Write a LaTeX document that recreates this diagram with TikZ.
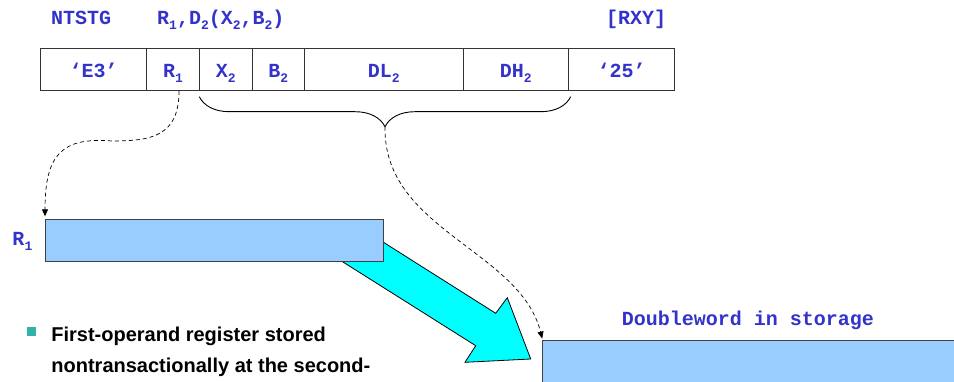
\documentclass[tikz,border=0pt]{standalone}
\usepackage{fontspec}
\setmainfont{Liberation Sans}
\setmonofont{Liberation Mono}
\usetikzlibrary{arrows.meta,positioning,calc,decorations.pathreplacing}
\definecolor{insblue}{RGB}{51,51,204}
\definecolor{regblue}{RGB}{153,204,255}
\definecolor{flowcyan}{RGB}{0,255,255}
\definecolor{bullteal}{RGB}{51,178,170}
\newcommand{\idx}[1]{\raisebox{-5pt}{\fontsize{13}{13}\selectfont #1}}

\begin{document}
\begin{tikzpicture}[x=1pt,y=-1pt,
    asm/.style={font=\fontsize{20}{20}\selectfont\ttfamily\bfseries,text=insblue,inner sep=0pt},
    field/.style={asm,draw=black!80,line width=1pt,minimum height=42.3pt,outer sep=0pt,text height=15pt,text depth=0pt},
    regbox/.style={draw=black!75,line width=1pt,fill=regblue,inner sep=0pt,outer sep=0pt,anchor=north west},
    link/.style={dash pattern=on 4pt off 3pt,line width=0.7pt,-{Triangle[length=7pt,width=6pt]}}]
  \useasboundingbox (0,0) rectangle (954,382);
  % mnemonic, operands and format
  \node[asm,anchor=base west] (mnem) at (51,25) {NTSTG};
  \node[asm,anchor=base west] (ops) at (157,25) {R\idx{1},D\idx{2}(X\idx{2},B\idx{2})};
  \node[asm,anchor=base west] (fmt) at (606,25) {[RXY]};
  % instruction fields
  \node[field,minimum width=106pt,anchor=north west] (op1) at (40.7,48.7) {‘E3’};
  \node[field,minimum width=52.6pt,right=0pt of op1] (r1) {R\idx{1}};
  \node[field,minimum width=52.7pt,right=0pt of r1] (x2) {X\idx{2}};
  \node[field,minimum width=52.7pt,right=0pt of x2] (b2) {B\idx{2}};
  \node[field,minimum width=158.3pt,right=0pt of b2] (dl2) {DL\idx{2}};
  \node[field,minimum width=105.7pt,right=0pt of dl2] (dh2) {DH\idx{2}};
  \node[field,minimum width=105.9pt,right=0pt of dh2] (op2) {‘25’};
  % brace over the second operand
  \coordinate (bl) at ($(x2.south west)+(0,5.7)$);
  \coordinate (br) at ($(dh2.south east)+(2,5.7)$);
  \draw[decorate,decoration={brace,mirror,amplitude=30pt,aspect=0.5},line width=0.9pt] (bl) -- (br);
  \coordinate (tip) at ($(bl)!0.5!(br)+(0,30)$);
  % store arrow, behind the register
  \draw[fill=flowcyan,line width=0.8pt] (383,242) -- (495.7,313.3) -- (507.3,297.7) -- (530.7,359)
    -- (465,362.3) -- (475.7,345.7) -- (343,262) -- cycle;
  % register and storage
  \node[regbox,minimum width=338pt,minimum height=42.4pt] (reg) at (45,219.3) {};
  \node[asm,anchor=base west] (reglbl) at (12.3,245.7) {R\idx{1}};
  \node[regbox,minimum width=420pt,minimum height=60pt] (store) at (542.7,340.5) {};
  \node[asm,anchor=base] (storelbl) at (748,326) {Doubleword in storage};
  % dashed links
  \coordinate (bend) at (112,141);
  \draw[link,shorten >=3pt] ($(r1.south)+(6,0)$) .. controls +(0,45) and +(40,0) .. (bend)
    .. controls +(-50,-4) and +(0,-65) .. (reg.north west);
  \draw[link,shorten >=2pt] (tip) .. controls +(-2,103) and +(-22.7,-90.5) .. (store.north west);
  % bullet text (base is the last line)
  \node[fill=bullteal,minimum size=9pt,inner sep=0pt] (bullet) at (31.5,331.2) {};
  \node[font=\fontsize{20}{30.6}\selectfont\bfseries,anchor=base west,align=left,inner sep=0pt] (note)
    at (51.2,372.3) {First-operand register stored\\nontransactionally at the second-};
\end{tikzpicture}
\end{document}
